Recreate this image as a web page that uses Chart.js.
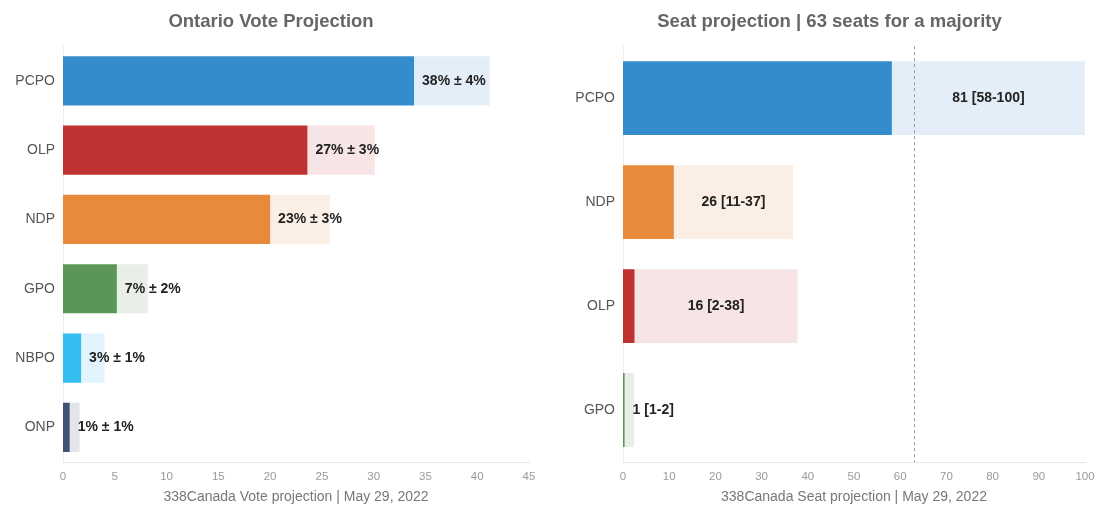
<!DOCTYPE html>
<html>
<head>
<meta charset="utf-8">
<script src="https://cdn.jsdelivr.net/npm/chart.js@4.4.1/dist/chart.umd.min.js"></script>
<style>
  body { margin: 0; background: #fff; }
  #wrap { position: relative; width: 1097px; height: 506px; }
  .box { position: absolute; top: 0; height: 506px; }
  #vote-box { left: 0; width: 545px; }
  #seat-box { left: 565px; width: 532px; }
</style>
</head>
<body>
<div id="wrap">
  <div class="box" id="vote-box"><canvas id="vote-chart" width="545" height="506"></canvas></div>
  <div class="box" id="seat-box"><canvas id="seat-chart" width="532" height="506"></canvas></div>
</div>
<script>
// vote projection (left)
const voteParties = ["PCPO", "OLP", "NDP", "GPO", "NBPO", "ONP"];
const voteMean = [38, 27, 23, 7, 3, 1];
const voteErr = [4, 3, 3, 2, 1, 1];
const voteLow = [33.9, 23.6, 20.0, 5.2, 1.75, 0.65];
const voteHigh = [41.2, 30.1, 25.8, 8.2, 4.0, 1.6];
const voteTicks = [0, 5, 10, 15, 20, 25, 30, 35, 40, 45];

// seat projection (right)
const seatParties = ["PCPO", "NDP", "OLP", "GPO"];
const seatMean = [81, 26, 16, 1];
const seatMin = [58, 11, 2, 1];
const seatMax = [100, 37, 38, 2];
const seatLow = [58.2, 11.0, 2.5, 0.35];
const seatHigh = [100, 36.8, 37.8, 2.4];
const seatTicks = [0, 10, 20, 30, 40, 50, 60, 70, 80, 90, 100];
const majority = 63;

const partyColor = {
  PCPO: "#348ccc", OLP: "#c03232", NDP: "#e8893b",
  GPO: "#5a9657", NBPO: "#35bdf0", ONP: "#3f5373"
};
const partyLight = {
  PCPO: "#e4eef8", OLP: "#f7e4e4", NDP: "#fbeee4",
  GPO: "#e8efe8", NBPO: "#e1f3fc", ONP: "#e3e5e9"
};

const FONT = "Arial, 'Liberation Sans', sans-serif";
Chart.defaults.font.family = FONT;

function makeChart(id, o) {
  const labelPlugin = {
    id: "rangeLabels",
    afterDatasetsDraw(chart) {
      const ctx = chart.ctx;
      const xs = chart.scales.x;
      const ys = chart.scales.y;
      ctx.save();
      ctx.font = "bold 14px " + FONT;
      ctx.fillStyle = "#222";
      ctx.textBaseline = "middle";
      o.texts.forEach((txt, i) => {
        const yy = ys.getPixelForValue(i);
        const x0 = xs.getPixelForValue(o.low[i]);
        const x1 = xs.getPixelForValue(o.high[i]);
        const w = ctx.measureText(txt).width;
        if (o.centerText && w + 10 < x1 - x0) {
          ctx.textAlign = "center";
          ctx.fillText(txt, (x0 + x1) / 2, yy);
        } else {
          ctx.textAlign = "left";
          ctx.fillText(txt, x0 + 8, yy);
        }
      });
      if (o.lineAt !== undefined) {
        const lx = Math.round(xs.getPixelForValue(o.lineAt)) + 0.5;
        ctx.strokeStyle = "#999";
        ctx.lineWidth = 1;
        ctx.setLineDash([3, 3]);
        ctx.beginPath();
        ctx.moveTo(lx, chart.chartArea.top);
        ctx.lineTo(lx, chart.chartArea.bottom);
        ctx.stroke();
      }
      ctx.restore();
    }
  };

  return new Chart(document.getElementById(id), {
    type: "bar",
    data: {
      labels: o.parties,
      datasets: [
        {
          data: o.low,
          backgroundColor: o.parties.map(p => partyColor[p]),
          grouped: false,
          barPercentage: 0.71,
          categoryPercentage: 1
        },
        {
          data: o.low.map((v, i) => [v, o.high[i]]),
          backgroundColor: o.parties.map(p => partyLight[p]),
          grouped: false,
          barPercentage: 0.71,
          categoryPercentage: 1
        }
      ]
    },
    options: {
      indexAxis: "y",
      responsive: false,
      animation: false,
      layout: { padding: { right: o.padRight, left: o.padLeft, top: 0, bottom: 0 } },
      plugins: {
        legend: { display: false },
        tooltip: { enabled: false },
        title: {
          display: true,
          text: o.title,
          color: "#666",
          font: { size: 18.5, weight: "bold" },
          padding: { top: 11, bottom: 13 }
        }
      },
      scales: {
        x: {
          type: "linear",
          min: o.ticks[0],
          max: o.ticks[o.ticks.length - 1],
          afterBuildTicks(s) { s.ticks = o.ticks.map(v => ({ value: v })); },
          ticks: { color: "#999", font: { size: 11.5 }, padding: 0 },
          grid: { display: false },
          border: { display: true, color: "#e6e6e6" },
          title: {
            display: true,
            text: o.xTitle,
            color: "#777",
            font: { size: 14 },
            padding: { top: 0, bottom: 0 }
          },
          afterFit(s) { s.height = 44; }
        },
        y: {
          ticks: { color: "#555", font: { size: 14 }, padding: 0 },
          grid: { display: false },
          border: { display: true, color: "#ececec" },
          afterFit(s) { s.width = o.yWidth; }
        }
      }
    },
    plugins: [labelPlugin]
  });
}

makeChart("vote-chart", {
  parties: voteParties,
  low: voteLow,
  high: voteHigh,
  texts: voteMean.map((m, i) => m + "% \u00b1 " + voteErr[i] + "%"),
  centerText: false,
  ticks: voteTicks,
  title: "Ontario Vote Projection",
  xTitle: "338Canada Vote projection | May 29, 2022",
  padLeft: 13,
  yWidth: 50,
  padRight: 16
});

makeChart("seat-chart", {
  parties: seatParties,
  low: seatLow,
  high: seatHigh,
  texts: seatMean.map((m, i) => m + " [" + seatMin[i] + "-" + seatMax[i] + "]"),
  centerText: true,
  ticks: seatTicks,
  title: "Seat projection | 63 seats for a majority",
  xTitle: "338Canada Seat projection | May 29, 2022",
  padLeft: 9,
  yWidth: 49,
  padRight: 12,
  lineAt: majority
});
</script>
</body>
</html>
